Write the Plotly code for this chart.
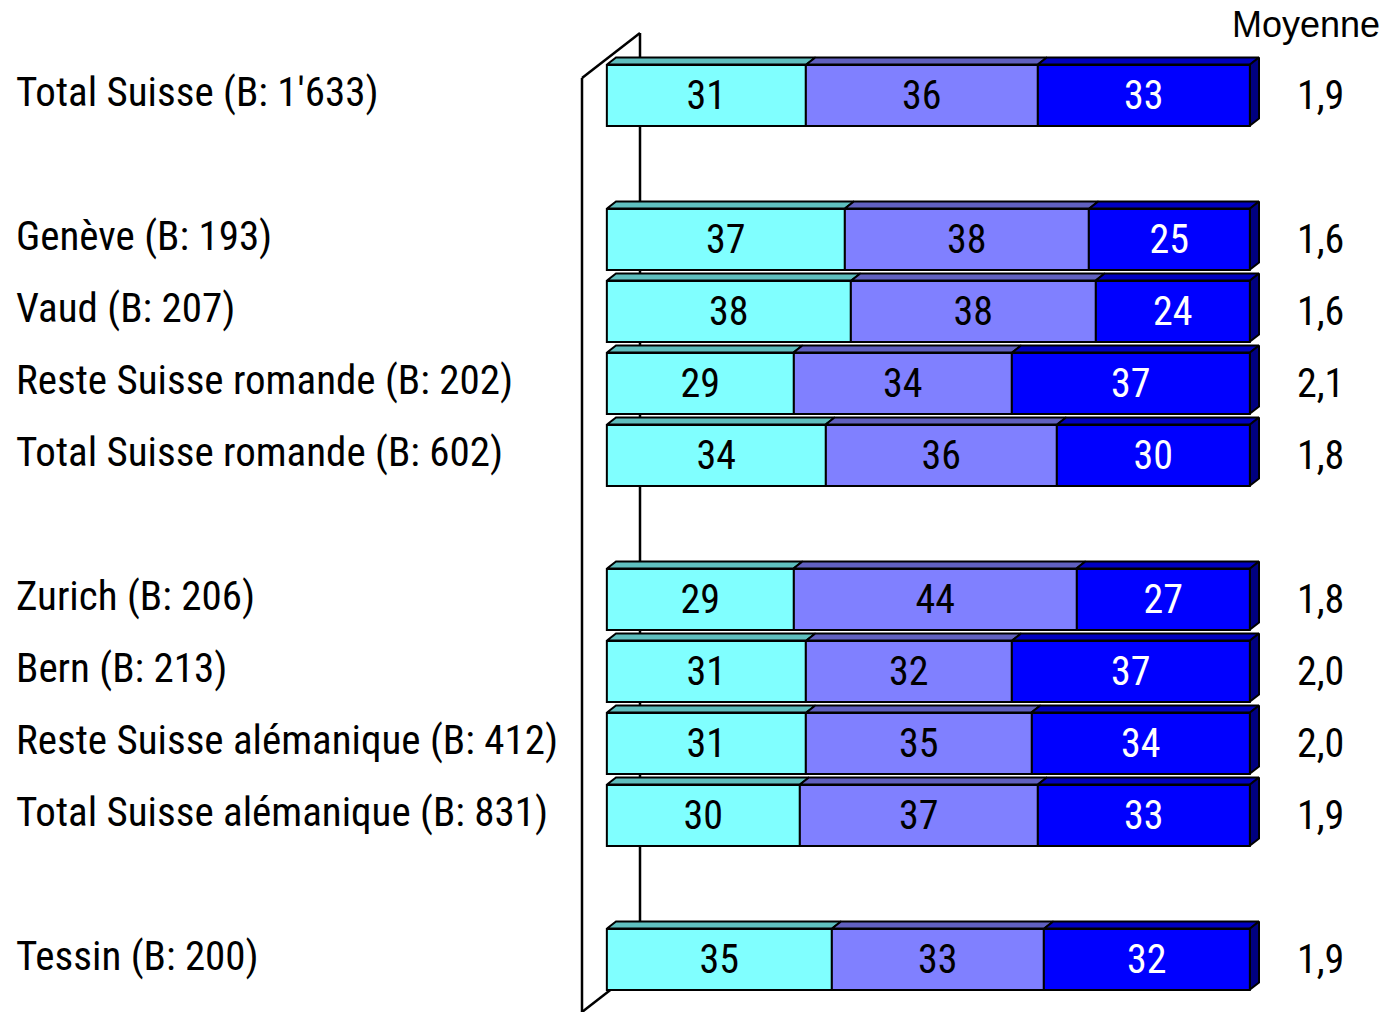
import plotly.graph_objects as go

# ---------------- data ----------------
categories = ["Total Suisse (B: 1'633)", "Genève (B: 193)", "Vaud (B: 207)",
              "Reste Suisse romande (B: 202)", "Total Suisse romande (B: 602)",
              "Zurich (B: 206)", "Bern (B: 213)", "Reste Suisse alémanique (B: 412)",
              "Total Suisse alémanique (B: 831)", "Tessin (B: 200)"]
rows = [0, 2, 3, 4, 5, 7, 8, 9, 10, 12]          # slot positions (gaps between groups)
seg1 = [31, 37, 38, 29, 34, 29, 31, 31, 30, 35]
seg2 = [36, 38, 38, 34, 36, 44, 32, 35, 37, 33]
seg3 = [33, 25, 24, 37, 30, 27, 37, 34, 33, 32]
moyenne = ["1,9", "1,6", "1,6", "2,1", "1,8", "1,8", "2,0", "2,0", "1,9", "1,9"]
moy_title = "Moyenne"

# ---------------- style ----------------
W, H = 1386, 1012
X0PX, X100PX = 607, 1250
ROW0PX, ROWPX = 95, 72
front = ["#80FFFF", "#8080FF", "#0000FF"]
topc = ["#5FBFBF", "#6060C0", "#0000C0"]
sidec = "#000080"
txtc = ["black", "black", "white"]
FONT = "Roboto Condensed, Liberation Sans Narrow, Arial Narrow, sans-serif"

pxx = (X100PX - X0PX) / 100.0
bw = 61 / ROWPX
dx = 9 / pxx
dy = 7 / ROWPX
PAD = 5  # x-range padding (units) so 3D faces are not clipped

fig = go.Figure()
series = [seg1, seg2, seg3]
bases = [[0] * len(rows), seg1[:], [a + b for a, b in zip(seg1, seg2)]]

for k in range(3):
    fig.add_trace(go.Bar(
        y=rows, x=series[k], base=bases[k], orientation="h", width=bw,
        marker=dict(color=front[k], line=dict(color="black", width=2)),
        text=series[k], texttemplate="%{x}", textposition="inside",
        insidetextanchor="middle", textangle=0,
        textfont=dict(family=FONT, size=40, color=txtc[k]),
        hoverinfo="skip", showlegend=False))

# 3D top faces
for k in range(3):
    xs, ys = [], []
    for r, b, v in zip(rows, bases[k], series[k]):
        yt = r - bw / 2
        xs += [b, b + v, b + v + dx, b + dx, b, None]
        ys += [yt, yt, yt - dy, yt - dy, yt, None]
    fig.add_trace(go.Scatter(x=xs, y=ys, mode="lines", fill="toself",
                             fillcolor=topc[k], line=dict(color="black", width=2),
                             hoverinfo="skip", showlegend=False))
# right side faces
xs, ys = [], []
for r, b, v in zip(rows, bases[2], seg3):
    yt, yb = r - bw / 2, r + bw / 2
    e = b + v
    xs += [e, e + dx, e + dx, e, e, None]
    ys += [yt, yt - dy, yb - dy, yb, yt, None]
fig.add_trace(go.Scatter(x=xs, y=ys, mode="lines", fill="toself",
                         fillcolor=sidec, line=dict(color="black", width=2),
                         hoverinfo="skip", showlegend=False))

# left labels and averages
for r, c, m in zip(rows, categories, moyenne):
    fig.add_annotation(x=14 / W, xref="paper", y=r - 0.04, yref="y", text=c,
                       xanchor="left", yanchor="middle", align="left", showarrow=False,
                       font=dict(family=FONT, size=41, color="black"))
    fig.add_annotation(x=1320 / W, xref="paper", y=r, yref="y", text=m,
                       xanchor="center", yanchor="middle", showarrow=False,
                       font=dict(family=FONT, size=40, color="black"))
fig.add_annotation(x=1382 / W, xref="paper", y=1 - 25 / H, yref="paper", text=moy_title,
                   xanchor="right", yanchor="middle", align="right", showarrow=False,
                   font=dict(family="Liberation Sans, Arial, sans-serif", size=36, color="black"))

# 3D wall lines
def P(px, py):
    return px / W, 1 - py / H

def seg(a, b, layer="above"):
    (x0, y0), (x1, y1) = P(*a), P(*b)
    fig.add_shape(type="line", xref="paper", yref="paper", x0=x0, y0=y0, x1=x1, y1=y1,
                  line=dict(color="black", width=2.5), layer=layer)

seg((582, 78), (582, 1014))
seg((582, 78), (640, 33))
seg((640, 33), (640, 967), layer="below")
seg((582, 1012), (640, 967), layer="below")

fig.update_layout(
    width=W, height=H, margin=dict(l=0, r=0, t=0, b=0),
    paper_bgcolor="white", plot_bgcolor="rgba(0,0,0,0)",
    barmode="overlay", bargap=0,
    xaxis=dict(domain=[(X0PX - PAD * pxx) / W, (X100PX + PAD * pxx) / W],
               range=[-PAD, 100 + PAD], visible=False, fixedrange=True),
    yaxis=dict(domain=[0, 1], range=[(H - ROW0PX) / ROWPX, -ROW0PX / ROWPX],
               visible=False, fixedrange=True),
    uniformtext=dict(minsize=40, mode="show"),
)
fig.update_xaxes(showgrid=False, zeroline=False)
fig.update_yaxes(showgrid=False, zeroline=False)
fig.update_traces(cliponaxis=False, selector=dict(type="scatter"))
fig.write_html("out.html", config=dict(displayModeBar=False),
               post_script="document.body.style.margin='0';")
